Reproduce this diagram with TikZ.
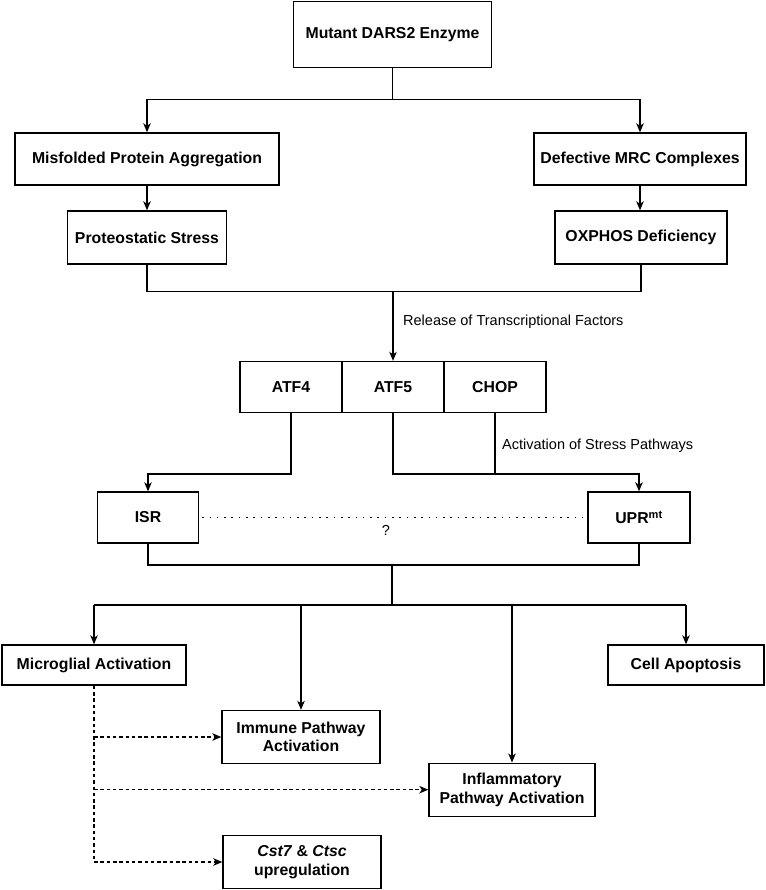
\documentclass[tikz,border=0pt]{standalone}
\usepackage{fontspec}
\setmainfont{Liberation Sans}
\usetikzlibrary{arrows.meta}
\tikzset{
  box/.style={draw=black, line width=1.4pt, fill=white, inner sep=0pt, align=center,
    font=\fontsize{15.8}{18.5}\selectfont\bfseries},
  arr/.style={line width=1.2pt, -{Stealth[length=9pt,width=7.5pt,inset=2.5pt]}},
  ln/.style={line width=1.2pt},
  dasharr/.style={line width=1.2pt, dash pattern=on 3.5pt off 2.8pt, -{Stealth[length=9pt,width=7.5pt,inset=2.5pt]}},
  dotln/.style={line width=1.6pt, dash pattern=on 1.6pt off 5.7pt},
  lbl/.style={inner sep=0pt, anchor=west, font=\fontsize{14.5}{16.5}\selectfont}
}
\begin{document}
\begin{tikzpicture}[x=1pt,y=-1pt]
\useasboundingbox (0,0) rectangle (765,890);
% boxes
\node[box, minimum width=198pt, minimum height=66pt] (top) at (392.5,34.5) {Mutant DARS2 Enzyme};
\node[box, minimum width=264pt, minimum height=52pt] (mis) at (147,159) {Misfolded Protein Aggregation};
\node[box, minimum width=212pt, minimum height=52pt] (mrc) at (640,159) {Defective MRC Complexes};
\node[box, minimum width=159pt, minimum height=53pt] (prot) at (147,237.5) {Proteostatic Stress};
\node[box, minimum width=172pt, minimum height=53pt] (ox) at (641,237.5) {OXPHOS Deficiency};
\node[box, minimum width=102pt, minimum height=51pt] (atf4) at (291,387) {ATF4};
\node[box, minimum width=102pt, minimum height=51pt] (atf5) at (393,387) {ATF5};
\node[box, minimum width=102pt, minimum height=51pt] (chop) at (495,387) {CHOP};
\node[box, minimum width=101pt, minimum height=51pt] (isr) at (148,517.5) {ISR};
\node[box, minimum width=102pt, minimum height=51pt] (upr) at (639,517.5) {UPR\textsuperscript{mt}};
\node[box, minimum width=184pt, minimum height=40pt] (micro) at (94,665) {Microglial Activation};
\node[box, minimum width=156pt, minimum height=40pt] (apop) at (686,665) {Cell Apoptosis};
\node[box, minimum width=158pt, minimum height=53pt] (imm) at (301,737) {Immune Pathway\\Activation};
\node[box, minimum width=166pt, minimum height=53pt] (infl) at (512,789.7) {Inflammatory\\Pathway Activation};
\node[box, minimum width=158pt, minimum height=53pt] (cst) at (302,862) {\textit{Cst7} \& \textit{Ctsc}\\upregulation};
% junctions
\coordinate (b1) at (392.5,99.3);
\coordinate (m1) at (393,291.7);
\coordinate (j1) at (291,474);
\coordinate (j2) at (393,474);
\coordinate (m2) at (392,565);
\coordinate (m3) at (392,605);
% connectors
\draw[ln] (top.south) -- (b1);
\draw[arr] (b1) -| (mis.north);
\draw[arr] (b1) -| (mrc.north);
\draw[arr] (mis.south) -- (prot.north);
\draw[arr] (mrc.south) -- (mrc.south |- ox.north);
\draw[ln] (prot.south) |- (m1) -| (ox.south);
\draw[arr] (m1) -- (atf5.north);
\node[lbl] (rel) at (403,322) {Release of Transcriptional Factors};
\draw[arr] (atf4.south) -- (j1) -| (isr.north);
\draw[arr] (atf5.south) -- (j2) -| (upr.north);
\draw[ln] (chop.south) -- (chop.south |- j2);
\node[lbl] (act) at (502,445.7) {Activation of Stress Pathways};
\draw[dotln] ([xshift=3pt]isr.east) -- ([xshift=-5pt]upr.west);
\node[lbl, anchor=center] (q) at (386,530) {?};
\draw[ln] (isr.south) |- (m2) -| (upr.south);
\draw[ln] (m2) -- (m3);
\draw[ln] (m3 -| micro.north) -- (m3 -| apop.north);
\draw[arr] (m3 -| micro.north) -- (micro.north);
\draw[arr] (m3 -| apop.north) -- (apop.north);
\draw[arr] (m3 -| imm.north) -- (imm.north);
\draw[arr] (m3 -| infl.north) -- (infl.north);
\draw[dasharr] (micro.south) |- (cst.west);
\draw[dasharr] (micro.south |- imm.west) -- (imm.west);
\draw[dasharr] (micro.south |- infl.west) -- (infl.west);
\end{tikzpicture}
\end{document}
